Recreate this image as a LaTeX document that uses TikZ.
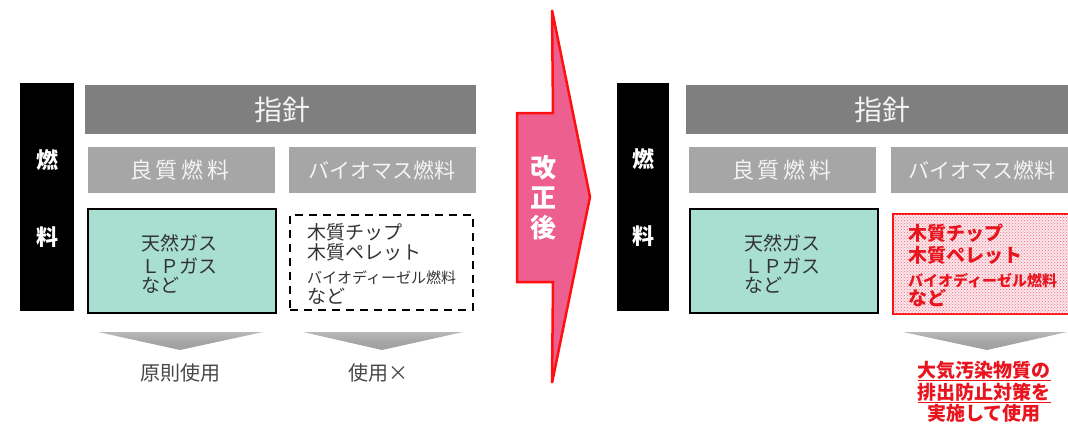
\documentclass[tikz,border=0pt]{standalone}
\usepackage{fontspec}
\setmainfont{Noto Sans CJK JP}
\usetikzlibrary{patterns}
\definecolor{dgray}{HTML}{7F7F7F}
\definecolor{lgray}{HTML}{A6A6A6}
\definecolor{htxt}{HTML}{F4F4F4}
\definecolor{tealfill}{HTML}{A9DFD1}
\definecolor{bodytxt}{HTML}{333333}
\definecolor{pinkfill}{HTML}{EC5F8E}
\definecolor{redline}{HTML}{FF1010}
\definecolor{redtxt}{HTML}{E8141E}
\definecolor{dotpink}{HTML}{EE6F84}
\definecolor{palepink}{HTML}{FBE6EA}
\definecolor{arrgray}{HTML}{7A7A7A}
\begin{document}
\begin{tikzpicture}[x=1pt,y=-1pt,
  blk/.style={fill=black,inner sep=0,minimum width=54,minimum height=228},
  hdr/.style={fill=dgray,inner sep=0,minimum width=391,minimum height=49},
  sub/.style={fill=lgray,inner sep=0,minimum width=187,minimum height=46},
  gasbox/.style={fill=tealfill,draw=black,line width=2.5pt,inner sep=0,minimum width=188,minimum height=104},
  dashbox/.style={draw=black,line width=2.8pt,dash pattern=on 8pt off 6pt,inner sep=0,minimum width=183,minimum height=95},
  redbox/.style={draw=redline,line width=2pt,inner sep=0,minimum width=184,minimum height=100,
    fill=palepink,postaction={pattern=crosshatch dots,pattern color=dotpink}},
  downarr/.style={top color=gray!55,bottom color=gray!75,middle color=gray!70},
  t/.style={inner sep=0,anchor=base},
  tl/.style={inner sep=0,anchor=base west},
  bartxt/.style={t,text=white,font=\fontsize{22}{22}\selectfont\bfseries},
  hdrtxt/.style={t,text=htxt,font=\fontsize{28}{28}\selectfont},
  subtxt/.style={t,text=htxt,font=\fontsize{21}{21}\selectfont},
  body/.style={tl,text=bodytxt,font=\fontsize{19}{19}\selectfont},
  bodysm/.style={tl,text=bodytxt,font=\fontsize{15}{15}\selectfont},
  rbody/.style={tl,text=redtxt,font=\fontsize{19}{19}\selectfont\bfseries},
  rbodysm/.style={tl,text=redtxt,font=\fontsize{15}{15}\selectfont\bfseries},
  result/.style={t,text=bodytxt!90,font=\fontsize{20}{20}\selectfont},
  rresult/.style={t,text=redtxt,font=\fontsize{19}{19}\selectfont\bfseries}
]
\useasboundingbox (0,0) rectangle (1068,423);
\clip (0,0) rectangle (1068,423);

% ---------------- left panel ----------------
\node[blk] (barL) at (47,197) {};
\node[bartxt] (nenL) at (47,168) {燃};
\node[bartxt] (ryoKL) at (47,245) {料};
\node[hdr] (shishinL) at (280.5,109.5) {};
\node[hdrtxt] (shishinLt) at (282,120) {指針};
\node[sub] (ryoL) at (181,170) {};
\node[subtxt,font=\fontsize{22}{22}\selectfont] (ryoLt) at (180,178) {良\kern4pt 質\kern4pt 燃\kern4pt 料};
\node[sub] (bioL) at (382.5,170) {};
\node[subtxt] (bioLt) at (382,178) {バイオマス燃料};
\node[gasbox] (gasL) at (182,261) {};
\node[body] (gasL1) at (141,250) {天然ガス};
\node[body] (gasL2) at (141,273) {ＬＰガス};
\node[body] (gasL3) at (141,292) {など};
\node[dashbox] (dashL) at (381.5,262.5) {};
\node[body] (dashL1) at (307,239) {木質チップ};
\node[body] (dashL2) at (307,259) {木質ペレット};
\node[bodysm] (dashL3) at (307,283) {バイオディーゼル燃料};
\node[body] (dashL4) at (307,303) {など};
\shade[downarr] (98,332) -- (263,332) -- (180,350) -- cycle;
\shade[downarr] (303,332) -- (463,332) -- (382,350) -- cycle;
\node[result] (useL) at (180,380) {原則使用};
\node[result] (noL) at (378,380) {使用×};

% ---------------- middle arrow ----------------
\draw[fill=pinkfill,draw=redline,line width=2.5pt,line join=miter]
  (517,113) -- (553,113) -- (552,10) -- (590,197) -- (552,383) -- (553,282) -- (517,282) -- cycle;
\node[t,text=white,font=\fontsize{26}{26}\selectfont\bfseries] (kai) at (543,177) {改};
\node[t,text=white,font=\fontsize{26}{26}\selectfont\bfseries] (sei) at (543,207) {正};
\node[t,text=white,font=\fontsize{26}{26}\selectfont\bfseries] (go) at (543,237) {後};

% ---------------- right panel ----------------
\node[blk,minimum width=52] (barR) at (643,197) {};
\node[bartxt] (nenR) at (643,167) {燃};
\node[bartxt] (ryoKR) at (643,244) {料};
\node[hdr] (shishinR) at (881.5,109.5) {};
\node[hdrtxt] (shishinRt) at (882,120) {指針};
\node[sub] (ryoR) at (782.5,170) {};
\node[subtxt,font=\fontsize{22}{22}\selectfont] (ryoRt) at (782,178) {良\kern4pt 質\kern4pt 燃\kern4pt 料};
\node[sub] (bioR) at (984.5,170) {};
\node[subtxt] (bioRt) at (982,178) {バイオマス燃料};
\node[gasbox] (gasR) at (784,261) {};
\node[body] (gasR1) at (744,250) {天然ガス};
\node[body] (gasR2) at (744,273) {ＬＰガス};
\node[body] (gasR3) at (744,292) {など};
\node[redbox] (redR) at (985,264) {};
\node[rbody] (redR1) at (908,240) {木質チップ};
\node[rbody] (redR2) at (908,262) {木質ペレット};
\node[rbodysm] (redR3) at (908,286) {バイオディーゼル燃料};
\node[rbody] (redR4) at (908,305) {など};
\shade[downarr] (903,332) -- (1067,332) -- (987,350) -- cycle;
\node[rresult] (resR1) at (984,377) {\underline{大気汚染物質の}};
\node[rresult] (resR2) at (984,399) {\underline{排出防止対策を}};
\node[rresult] (resR3) at (984,420) {実施して使用};
\end{tikzpicture}
\end{document}
